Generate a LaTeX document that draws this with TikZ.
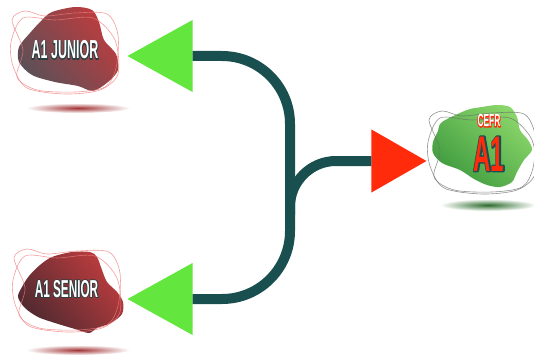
\documentclass[tikz,border=0pt]{standalone}
\usepackage{fontspec}
\usepackage{tikz}
\usetikzlibrary{shapes.geometric}
\newfontfamily\tagfont[FakeStretch=0.48]{Liberation Sans}
\definecolor{arrowgreen}{HTML}{63E63D}
\definecolor{arrowred}{HTML}{FF2B0A}
\definecolor{linkteal}{HTML}{1A4F50}
\definecolor{blobred}{HTML}{BE3C3E}
\definecolor{blobdark}{HTML}{5C5058}
\definecolor{blobdeep}{HTML}{4E2A30}
\definecolor{bloblight}{HTML}{8AD66A}
\definecolor{blobgreen}{HTML}{3E9A3E}
\definecolor{loopred}{HTML}{F07C7C}
\definecolor{loopgray}{HTML}{6E6E6E}
% stroked copy under the filled text: width, stroke rgb, text
\newcommand\outlined[3]{\rlap{\special{pdf:literal direct 1 Tr #1 w 1 j #2 RG}#3\special{pdf:literal direct 0 Tr}}#3}

\tikzset{
  link/.style={draw=linkteal, line width=10pt},
  levelarrow/.style={isosceles triangle, isosceles triangle stretches,
    inner sep=0pt, anchor=apex},
  redblob/.style={top color=blobred, bottom color=blobdark, shading angle=-50},
  greenblob/.style={top color=bloblight, bottom color=blobgreen, shading angle=-40},
  loopline/.style={line width=0.6pt, opacity=0.75},
  tagtext/.style={text=white, anchor=base, inner sep=0pt,
    font=\tagfont\bfseries\fontsize{26}{26}\selectfont}
}

\begin{document}
\begin{tikzpicture}[x=1pt, y=-1pt]
  \useasboundingbox (0,0) rectangle (534,358);

  \coordinate (juniorblob) at (65,50);
  \coordinate (seniorblob) at (67,288);
  \coordinate (cefrblob) at (482,150);

  % shadows
  \shade[inner color=blobred!85!black, outer color=white] (78,108) ellipse (52pt and 5pt);
  \shade[inner color=blobred!85!black, outer color=white] (78,350) ellipse (52pt and 5pt);
  \shade[inner color=blobgreen!70!black, outer color=white] (488,205) ellipse (48pt and 6pt);

  % blobs
  \shade[redblob, shift={(juniorblob)}] plot[smooth cycle] coordinates {
    (-13,-38) (10,-43) (27,-40) (34,-28) (39,-10) (51,4) (53,20) (43,32)
    (28,41) (13,36) (-10,32) (-33,25) (-46,12) (-46,-3) (-35,-17) (-23,-30)};
  \shade[redblob, bottom color=blobdeep, shading angle=-50, shift={(seniorblob)}] plot[smooth cycle] coordinates {
    (-27,-23) (-15,-31) (5,-36) (23,-36) (30,-31) (35,-18) (40,-6) (50,4)
    (56,14) (55,26) (44,35) (30,40) (22,45) (8,41) (-12,35) (-29,29)
    (-42,20) (-49,9) (-45,-1) (-38,-12)};
  \shade[greenblob, shift={(cefrblob)}] plot[smooth cycle] coordinates {
    (-40,-28) (-15,-40) (0,-43) (15,-45) (28,-43) (35,-33) (38,-20) (46,-10)
    (50,0) (42,10) (35,22) (30,32) (18,37) (5,35) (-8,29) (-22,20)
    (-40,13) (-49,3) (-49,-8) (-44,-19)};

  % loops round the blobs
  \foreach \tag/\col in {juniorblob/loopred, seniorblob/loopred, cefrblob/loopgray} {
    \draw[loopline, draw=\col, shift={(\tag)}] plot[smooth cycle] coordinates {
      (-53,-30) (-40,-39) (-20,-34) (10,-37) (42,-36) (53,-15) (51,18)
      (40,37) (10,42) (-28,40) (-48,27) (-42,0)};
    \draw[loopline, draw=\col, shift={(\tag)}] plot[smooth cycle] coordinates {
      (-54,-8) (-42,-32) (-10,-30) (28,-32) (50,-10) (53,24) (35,40)
      (0,44) (-38,38) (-52,16)};
  }

  % tag texts
  \node[tagtext] (junior) at (65,59) {\outlined{1.6}{0.16 0.24 0.25}{A1 JUNIOR}};
  \node[tagtext, font=\tagfont\bfseries\fontsize{24.5}{24.5}\selectfont] (senior) at (66.5,297)
    {\outlined{1.6}{0.16 0.24 0.25}{A1 SENIOR}};
  \node[tagtext, font=\tagfont\bfseries\fontsize{17.5}{17.5}\selectfont] (cefr) at (489,127)
    {\outlined{1.4}{1 0.169 0.039}{CEFR}};
  \node[tagtext, text=arrowred, font=\tagfont\bfseries\fontsize{50}{50}\selectfont] (aone) at (489,171)
    {\outlined{2.6}{0.102 0.31 0.314}{A1}};

  % arrows
  \node[levelarrow, shape border rotate=180, fill=arrowgreen,
    minimum width=72pt, minimum height=65pt] (juniorarrow) at (127,56) {};
  \node[levelarrow, shape border rotate=180, fill=arrowgreen,
    minimum width=72pt, minimum height=65pt] (seniorarrow) at (127,299) {};
  \node[levelarrow, fill=arrowred,
    minimum width=63pt, minimum height=55pt] (cefrarrow) at (427,161) {};

  % connectors
  \coordinate (fork) at (290,215);
  \draw[link, rounded corners=68pt] (juniorarrow.lower side) -| (fork |- seniorarrow.lower side)
    -- (seniorarrow.lower side);
  \draw[link, rounded corners=46pt] (fork) |- (cefrarrow.lower side);
\end{tikzpicture}
\end{document}
